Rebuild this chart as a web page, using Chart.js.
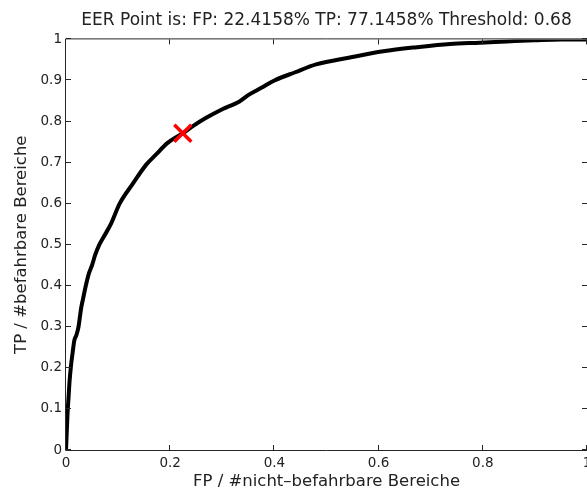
<!DOCTYPE html>
<html>
<head>
<meta charset="utf-8">
<title>ROC</title>
<script src="https://cdn.jsdelivr.net/npm/chart.js@4.4.1/dist/chart.umd.min.js"></script>
<style>
  html, body { margin: 0; padding: 0; background: #fff; overflow: hidden; }
  #wrap { width: 587px; height: 497px; }
</style>
</head>
<body>
<div id="wrap"><canvas id="rocChart" width="587" height="497"></canvas></div>
<script>
// ROC curve samples (false positive rate / true positive rate)
const fpValues = [0, 0.001, 0.002, 0.003, 0.005, 0.007, 0.01, 0.013, 0.016, 0.02,
  0.024, 0.029, 0.033, 0.038, 0.044, 0.05, 0.056, 0.064, 0.075, 0.086,
  0.103, 0.128, 0.154, 0.173, 0.195, 0.2242, 0.245, 0.269, 0.3,
  0.333, 0.352, 0.375, 0.4, 0.44, 0.48, 0.545, 0.609, 0.673, 0.737,
  0.794, 0.846, 0.9, 0.95, 1.0];
const tpValues = [0, 0.03, 0.06, 0.09, 0.13, 0.17, 0.21, 0.24, 0.267, 0.28,
  0.3, 0.345, 0.37, 0.4, 0.43, 0.45, 0.475, 0.5, 0.525, 0.55,
  0.6, 0.648, 0.695, 0.72, 0.748, 0.7715, 0.79, 0.809, 0.83,
  0.849, 0.866, 0.882, 0.9, 0.92, 0.939, 0.956, 0.971, 0.981, 0.989,
  0.992, 0.995, 0.998, 1.0, 1.0];

// equal error rate point, in percent
const eerFp = 22.4158;
const eerTp = 77.1458;
const eerThreshold = 0.68;

const xTicks = [0, 0.2, 0.4, 0.6, 0.8, 1];
const yTicks = [0, 0.1, 0.2, 0.3, 0.4, 0.5, 0.6, 0.7, 0.8, 0.9, 1];

const textColor = '#222';
const frameColor = '#262626';
const tickFont = { family: 'DejaVu Sans', size: 13.5 };
const labelFont = { family: 'DejaVu Sans', size: 16.5 };

const rocPoints = fpValues.map((fp, i) => ({ x: fp, y: tpValues[i] }));

// box around the axes with ticks pointing inwards on all four sides
const framePlugin = {
  id: 'frame',
  afterDraw(chart) {
    const { ctx, chartArea, scales } = chart;
    const { left, right, top, bottom } = chartArea;
    const len = 5;
    ctx.save();
    ctx.strokeStyle = frameColor;
    ctx.lineWidth = 1;
    ctx.beginPath();
    ctx.rect(left - 0.5, top - 0.5, right - left + 1, bottom - top + 1);
    xTicks.forEach(v => {
      const px = Math.round(scales.x.getPixelForValue(v)) - 0.5;
      ctx.moveTo(px, bottom); ctx.lineTo(px, bottom - len);
      ctx.moveTo(px, top); ctx.lineTo(px, top + len);
    });
    yTicks.forEach(v => {
      const py = Math.round(scales.y.getPixelForValue(v)) - 0.5;
      ctx.moveTo(left, py); ctx.lineTo(left + len, py);
      ctx.moveTo(right, py); ctx.lineTo(right - len, py);
    });
    ctx.stroke();
    ctx.restore();
  }
};

const ctx = document.getElementById('rocChart');
new Chart(ctx, {
  type: 'scatter',
  data: {
    datasets: [
      {
        label: 'EER',
        data: [{ x: eerFp / 100, y: eerTp / 100 }],
        pointStyle: 'crossRot',
        pointRadius: 12,
        borderWidth: 3.5,
        borderColor: '#ff0000',
        backgroundColor: '#ff0000',
        order: 0
      },
      {
        label: 'ROC',
        data: rocPoints,
        showLine: true,
        borderColor: '#000000',
        borderWidth: 4,
        pointRadius: 0,
        cubicInterpolationMode: 'monotone',
        order: 1
      }
    ]
  },
  options: {
    responsive: false,
    animation: false,
    layout: { padding: 0, autoPadding: false },
    plugins: {
      legend: { display: false },
      tooltip: { enabled: false },
      title: {
        display: true,
        fullSize: false,
        text: 'EER Point is: FP: ' + eerFp + '% TP: ' + eerTp + '% Threshold: ' + eerThreshold,
        color: textColor,
        font: { family: 'DejaVu Sans', size: 17, weight: 'normal' },
        padding: { top: 10, bottom: 9 }
      }
    },
    scales: {
      x: {
        type: 'linear',
        min: 0,
        max: 1,
        afterBuildTicks: s => { s.ticks = xTicks.map(v => ({ value: v })); },
        afterFit: s => { s.height = 47; s.paddingLeft = 0; s.paddingRight = 0; },
        grid: { display: false, drawTicks: false },
        border: { display: false },
        ticks: { color: textColor, font: tickFont, padding: 5, maxRotation: 0, callback: v => String(v) },
        title: {
          display: true,
          text: 'FP / #nicht\u2013befahrbare Bereiche',
          color: textColor,
          font: labelFont,
          padding: { top: 0, bottom: 5 }
        }
      },
      y: {
        type: 'linear',
        min: 0,
        max: 1,
        afterBuildTicks: s => { s.ticks = yTicks.map(v => ({ value: v })); },
        afterFit: s => { s.width = 66; s.paddingTop = 0; s.paddingBottom = 0; },
        grid: { display: false, drawTicks: false },
        border: { display: false },
        ticks: { color: textColor, font: tickFont, padding: 4, callback: v => String(v) },
        title: {
          display: true,
          text: 'TP / #befahrbare Bereiche',
          color: textColor,
          font: labelFont,
          padding: { top: 12, bottom: 0 }
        }
      }
    }
  },
  plugins: [framePlugin]
});
</script>
</body>
</html>
